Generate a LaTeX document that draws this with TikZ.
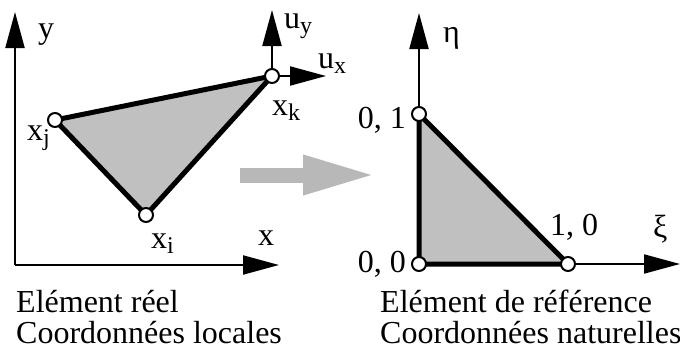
\documentclass[tikz,border=0pt]{standalone}
\usepackage{fontspec}
\setmainfont{Liberation Serif}
\usetikzlibrary{arrows.meta, positioning, backgrounds}
\definecolor{gris}{RGB}{192,192,192}
\definecolor{grisfleche}{RGB}{184,184,184}
\newcommand{\indice}[1]{\raisebox{-5pt}{\fontsize{24}{24}\selectfont #1}}
\tikzset{
  axe/.style={line width=2pt, -{Triangle[length=36pt, width=19pt]}},
  bord/.style={line width=5pt, line join=round},
  sommet/.style={circle, draw, fill=white, line width=2pt, minimum size=14pt, inner sep=0pt},
  lbl/.style={font=\fontsize{32}{32}\selectfont, inner sep=0pt},
  fleche/.style={grisfleche, line width=15pt, -{Triangle[length=74pt, width=36pt]}}
}
\begin{document}
\begin{tikzpicture}[x=1pt, y=-1pt]
    \useasboundingbox (0,0) rectangle (680,351);
    % repere reel
    \coordinate (O1) at (15,265);
    \coordinate (X1) at (279,265);
    \coordinate (Y1) at (15,12);
    \draw[axe] (O1) -- (X1);
    \draw[axe] (O1) -- (Y1);
    \node[lbl, anchor=base west] (ly) at (38,38) {y};
    \node[lbl, anchor=base west] (lx) at (258,245) {x};
    % element reel
    \node[sommet] (vi) at (146,215) {};
    \node[sommet] (vj) at (55,120) {};
    \node[sommet] (vk) at (272,76) {};
    \begin{scope}[on background layer]
        \fill[gris] (vi.center) -- (vj.center) -- (vk.center) -- cycle;
        \draw[bord] (vi.center) -- (vj.center) -- (vk.center) -- cycle;
    \end{scope}
    \coordinate (UX) at (326,76);
    \coordinate (UY) at (272,10);
    \draw[axe] (vk) -- (UX);
    \draw[axe] (vk) -- (UY);
    \node[lbl, anchor=base west] (lxi) at (151,248) {x\indice{i}};
    \node[lbl, anchor=base east] (lxj) at (50,140) {x\indice{j}};
    \node[lbl, anchor=base west] (lxk) at (272,115) {x\indice{k}};
    \node[lbl, anchor=base west] (luy) at (284,28) {u\indice{y}};
    \node[lbl, anchor=base west] (lux) at (318,68) {u\indice{x}};
    % passage
    \coordinate (F1) at (240,175);
    \coordinate (F2) at (377,175);
    \draw[fleche] (F1) -- (F2);
    % element de reference
    \node[sommet] (r0) at (419,264) {};
    \node[sommet] (r1) at (568,264) {};
    \node[sommet] (r2) at (419,114) {};
    \begin{scope}[on background layer]
        \fill[gris] (r0.center) -- (r1.center) -- (r2.center) -- cycle;
        \draw[bord] (r0.center) -- (r1.center) -- (r2.center) -- cycle;
    \end{scope}
    \coordinate (XI) at (680,264);
    \coordinate (ETA) at (419,13);
    \draw[axe] (r1) -- (XI);
    \draw[axe] (r2) -- (ETA);
    \node[lbl, anchor=base west] (leta) at (443,42) {η};
    \node[lbl, anchor=base west] (lxi) at (653,237) {ξ};
    \node[lbl, anchor=base east] (l00) at (406,272) {0, 0};
    \node[lbl, anchor=base east] (l01) at (406,128) {0, 1};
    \node[lbl, anchor=base west] (l10) at (550,235) {1, 0};
    % legendes
    \node[lbl, anchor=base west] (t1) at (16,312) {Elément réel};
    \node[lbl, anchor=base west] (t2) at (16,343) {Coordonnées locales};
    \node[lbl, anchor=base west] (t3) at (380,312) {Elément de référence};
    \node[lbl, anchor=base west] (t4) at (380,343) {Coordonnées naturelles};
\end{tikzpicture}
\end{document}
